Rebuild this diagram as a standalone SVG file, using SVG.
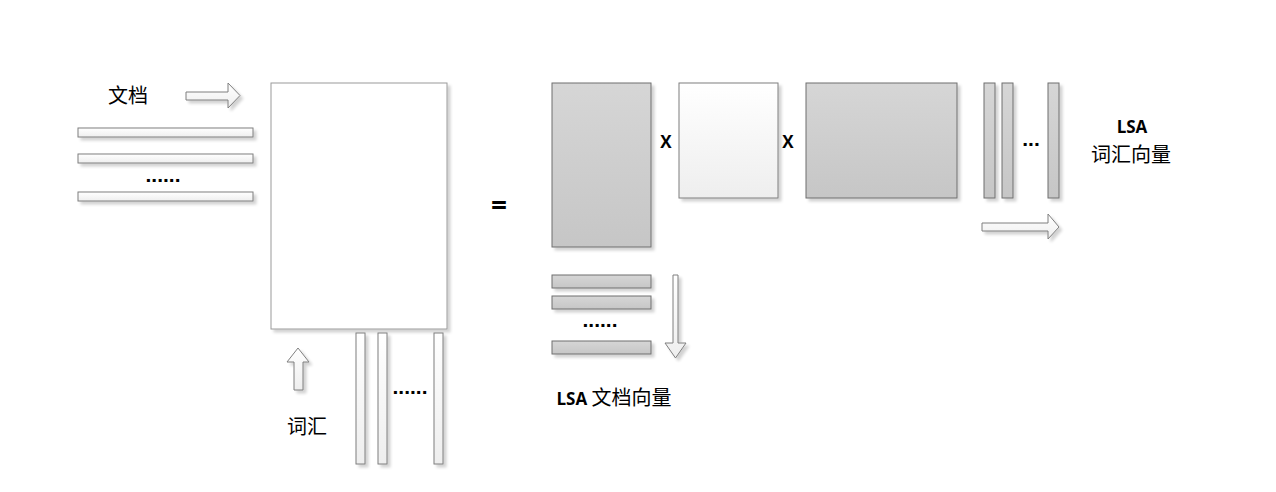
<svg xmlns="http://www.w3.org/2000/svg" width="1276" height="492" viewBox="0 0 1276 492">
<defs>
<linearGradient id="gw" x1="0" y1="0" x2="0" y2="1"><stop offset="0" stop-color="#ffffff"/><stop offset="1" stop-color="#eeeeee"/></linearGradient>
<linearGradient id="gg" x1="0" y1="0" x2="0" y2="1"><stop offset="0" stop-color="#d6d6d6"/><stop offset="1" stop-color="#c6c6c6"/></linearGradient>
<filter id="sh" x="-20%" y="-20%" width="150%" height="150%">
<feGaussianBlur in="SourceAlpha" stdDeviation="1.5"/><feOffset dx="3" dy="3" result="b"/>
<feComponentTransfer><feFuncA type="linear" slope="0.18"/></feComponentTransfer>
<feMerge><feMergeNode/><feMergeNode in="SourceGraphic"/></feMerge>
</filter>
<style>
.w{fill:url(#gw);stroke:#7f7f7f;stroke-width:1}
.g{fill:url(#gg);stroke:#6f6f6f;stroke-width:1}
.big{fill:#ffffff;stroke:#9a9a9a;stroke-width:1}
.cj{font-family:"Liberation Sans","Noto Sans CJK SC",sans-serif;font-size:20px;fill:#000}
.b{font-family:"Open Sans","Liberation Sans","Noto Sans CJK SC",sans-serif;font-weight:bold;fill:#000}
.dot{font-family:"Liberation Sans",sans-serif;font-weight:bold;font-size:21px;fill:#000}
</style>
</defs>
<g id="connectors" filter="url(#sh)">
<polygon class="w" points="186,92 228,92 228,83 240,95.5 228,108 228,100 186,100"/>
<polygon class="w" points="294,390 294,362 287,362 298,348 309,362 303,362 303,390"/>
<polygon class="w" points="982,223 1048,223 1048,214 1059,227 1048,239 1048,231 982,231"/>
<polygon class="w" points="673,275 678,275 678,343 686,343 675.5,358 665,343 673,343"/>
</g>
<g id="doc-label"><text class="cj" x="128" y="103" text-anchor="middle">文档</text></g>
<g id="doc-rows" filter="url(#sh)">
<rect class="w" x="78" y="128" width="175" height="9"/>
<rect class="w" x="78" y="154" width="175" height="9"/>
<rect class="w" x="78" y="192" width="175" height="9"/>
</g>
<g id="doc-dots"><text class="dot" x="163" y="182" text-anchor="middle">......</text></g>
<g id="matrix-A" filter="url(#sh)"><rect class="big" x="271" y="83" width="176" height="246"/></g>
<g id="vocab-cols" filter="url(#sh)">
<rect class="w" x="356" y="333" width="9" height="131"/>
<rect class="w" x="378" y="333" width="9" height="131"/>
<rect class="w" x="434" y="333" width="9" height="131"/>
</g>
<g id="vocab-dots"><text class="dot" x="410" y="394" text-anchor="middle">......</text></g>
<g id="vocab-label"><text class="cj" x="307" y="434" text-anchor="middle">词汇</text></g>
<g id="equals"><text class="b" x="499" y="215" text-anchor="middle" font-size="28">=</text></g>
<g id="matrix-U" filter="url(#sh)"><rect class="g" x="552" y="83" width="99" height="164"/></g>
<g id="times1"><text class="b" x="666" y="148" text-anchor="middle" font-size="17">X</text></g>
<g id="matrix-S" filter="url(#sh)"><rect class="w" x="679" y="83" width="99" height="115"/></g>
<g id="times2"><text class="b" x="788" y="148" text-anchor="middle" font-size="17">X</text></g>
<g id="matrix-V" filter="url(#sh)"><rect class="g" x="806" y="83" width="151" height="115"/></g>
<g id="v-cols" filter="url(#sh)">
<rect class="g" x="984" y="83" width="11" height="115"/>
<rect class="g" x="1002" y="83" width="11" height="115"/>
<rect class="g" x="1048" y="83" width="11" height="115"/>
</g>
<g id="v-dots"><text class="dot" x="1031" y="146" text-anchor="middle" font-size="18">...</text></g>
<g id="lsa-word-label">
<text class="b" x="1132" y="133" text-anchor="middle" font-size="17">LSA</text>
<text class="cj" x="1131" y="162" text-anchor="middle">词汇向量</text>
</g>
<g id="u-rows" filter="url(#sh)">
<rect class="g" x="552" y="275" width="99" height="13"/>
<rect class="g" x="552" y="296" width="99" height="13"/>
<rect class="g" x="552" y="341" width="99" height="13"/>
</g>
<g id="u-dots"><text class="dot" x="600" y="327" text-anchor="middle">......</text></g>
<g id="lsa-doc-label">
<text x="614" y="405" text-anchor="middle"><tspan class="b" font-size="17">LSA </tspan><tspan class="cj">文档向量</tspan></text>
</g>
</svg>
